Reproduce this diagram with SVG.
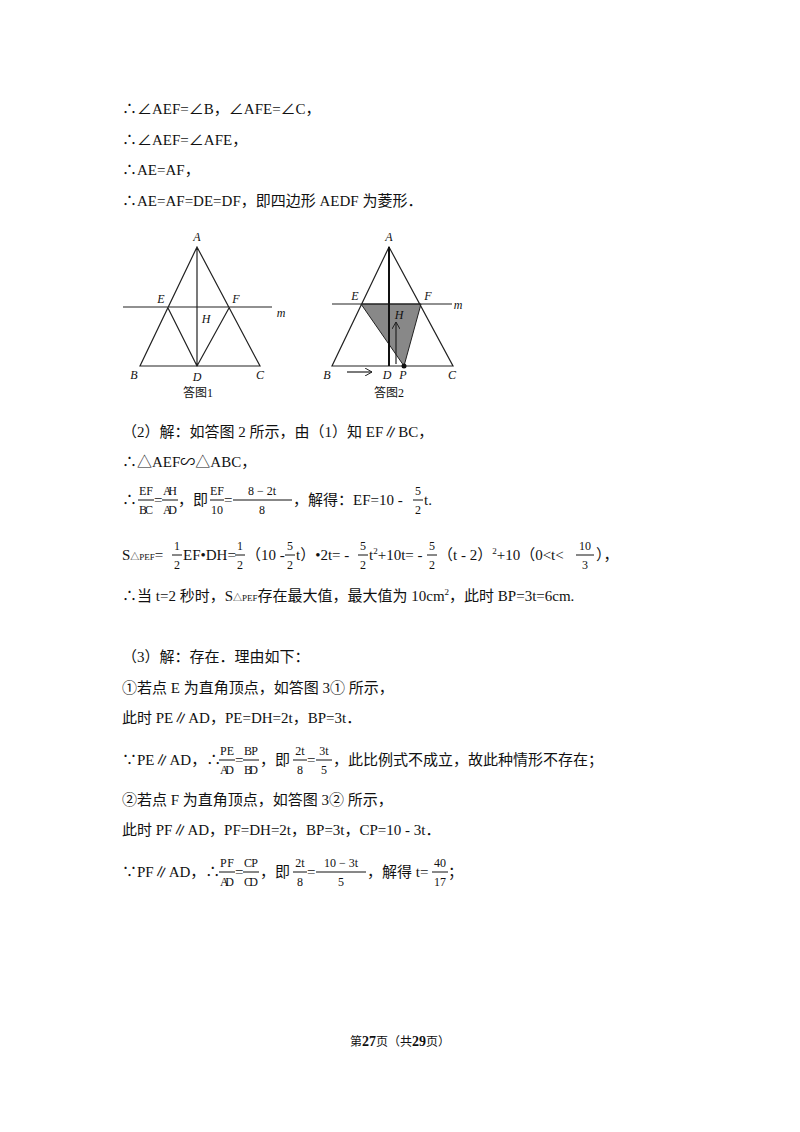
<svg xmlns="http://www.w3.org/2000/svg" width="800" height="1132" viewBox="0 0 800 1132">
<style>
text{font-family:"Liberation Serif","Noto Sans CJK SC",serif;font-size:15px;fill:#111}
.f{font-size:12px;text-anchor:middle}
.s{font-size:9px}
.lb{font-style:italic;font-size:12px;text-anchor:middle}
.cap{font-size:12px;text-anchor:middle}
.ln{stroke:#222;stroke-width:1.2;fill:none}
.bar{stroke:#111;stroke-width:1}
</style>
<defs><marker id="ar" markerWidth="8" markerHeight="8" refX="7" refY="4" orient="auto" markerUnits="userSpaceOnUse"><path d="M0,0 L7,4 L0,8" fill="none" stroke="#222"/></marker></defs>
<rect width="800" height="1132" fill="#fff"/>
<text x="122" y="114">∴∠AEF=∠B，∠AFE=∠C，</text>
<text x="122" y="145">∴∠AEF=∠AFE，</text>
<text x="122" y="175">∴AE=AF，</text>
<text x="122" y="206">∴AE=AF=DE=DF，即四边形 AEDF 为菱形．</text>
<g id="fig1">
<path class="ln" d="M197,247 L140,366 L260,366 Z M197,247 V366 M168,308 L197,366 L229,308 M123,307 H272"/>
<text class="lb" x="197" y="241">A</text><text class="lb" x="161" y="303">E</text><text class="lb" x="236" y="303">F</text>
<text class="lb" x="206" y="323">H</text><text class="lb" x="281" y="317">m</text><text class="lb" x="134" y="379">B</text>
<text class="lb" x="197" y="381">D</text><text class="lb" x="260" y="379">C</text><text class="cap" x="198" y="397">答图1</text>
</g>
<g id="fig2">
<polygon points="361,304 421,304 404,366" fill="#888" stroke="#222"/>
<path class="ln" d="M389,247 L332,366 L453,366 Z M332,304 H452"/>
<path d="M389,247 V366" stroke="#111" stroke-width="2"/>
<path class="ln" d="M396,364 V322" marker-end="url(#ar)"/>
<path class="ln" d="M347,372 H372" marker-end="url(#ar)"/>
<circle cx="404" cy="366" r="2.5" fill="#111"/>
<text class="lb" x="389" y="241">A</text><text class="lb" x="355" y="300">E</text><text class="lb" x="428" y="300">F</text>
<text class="lb" x="399" y="319">H</text><text class="lb" x="458" y="309">m</text><text class="lb" x="327" y="379">B</text>
<text class="lb" x="387" y="379">D</text><text class="lb" x="403" y="379">P</text><text class="lb" x="452" y="379">C</text>
<text class="cap" x="389" y="397">答图2</text>
</g>
<text x="122" y="437">（2）解：如答图 2 所示，由（1）知 EF∥BC，</text>
<text x="122" y="467">∴△AEF∽△ABC，</text>
<g>
<text x="122" y="505">∴</text>
<text class="f" x="146" y="495" textLength="14">EF</text><line class="bar" x1="138" y1="500" x2="154" y2="500"/><text class="f" x="146" y="514" textLength="14">BC</text>
<text x="154" y="505">=</text>
<text class="f" x="170" y="495" textLength="14">AH</text><line class="bar" x1="162" y1="500" x2="178" y2="500"/><text class="f" x="170" y="514" textLength="14">AD</text>
<text x="178" y="505">，即</text>
<text class="f" x="217" y="495" textLength="14">EF</text><line class="bar" x1="210" y1="500" x2="224" y2="500"/><text class="f" x="217" y="514">10</text>
<text x="224" y="505">=</text>
<text class="f" x="262" y="495">8 − 2t</text><line class="bar" x1="233" y1="500" x2="292" y2="500"/><text class="f" x="262" y="514">8</text>
<text x="293" y="505">，解得：EF=10 - </text>
<text class="f" x="418" y="495">5</text><line class="bar" x1="413" y1="500" x2="423" y2="500"/><text class="f" x="418" y="514">2</text>
<text x="424" y="505">t.</text>
</g>
<g>
<text x="122" y="560">S<tspan class="s">△PEF</tspan>=</text>
<text class="f" x="177" y="550">1</text><line class="bar" x1="172" y1="555" x2="182" y2="555"/><text class="f" x="177" y="569">2</text>
<text x="183" y="560">EF•DH=</text>
<text class="f" x="240" y="550">1</text><line class="bar" x1="235" y1="555" x2="245" y2="555"/><text class="f" x="240" y="569">2</text>
<text x="246" y="560">（10 - </text>
<text class="f" x="290" y="550">5</text><line class="bar" x1="285" y1="555" x2="295" y2="555"/><text class="f" x="290" y="569">2</text>
<text x="296" y="560">t）•2t= - </text>
<text class="f" x="363" y="550">5</text><line class="bar" x1="358" y1="555" x2="368" y2="555"/><text class="f" x="363" y="569">2</text>
<text x="369" y="560">t<tspan class="s" dy="-6">2</tspan><tspan dy="6">+10t= - </tspan></text>
<text class="f" x="432" y="550">5</text><line class="bar" x1="427" y1="555" x2="437" y2="555"/><text class="f" x="432" y="569">2</text>
<text x="438" y="560">（t - 2）<tspan class="s" dy="-6">2</tspan><tspan dy="6">+10（0&lt;t&lt;</tspan></text>
<text class="f" x="585" y="550">10</text><line class="bar" x1="576" y1="555" x2="594" y2="555"/><text class="f" x="585" y="569">3</text>
<text x="596" y="560">），</text>
</g>
<text x="122" y="601">∴当 t=2 秒时，S<tspan class="s">△PEF</tspan>存在最大值，最大值为 10cm<tspan class="s" dy="-6">2</tspan><tspan dy="6">，此时 BP=3t=6cm.</tspan></text>
<text x="122" y="662">（3）解：存在．理由如下：</text>
<text x="122" y="693">①若点 E 为直角顶点，如答图 3① 所示，</text>
<text x="122" y="723">此时 PE∥AD，PE=DH=2t，BP=3t．</text>
<g>
<text x="122" y="765">∵PE∥AD，∴</text>
<text class="f" x="227" y="755" textLength="14">PE</text><line class="bar" x1="219" y1="760" x2="235" y2="760"/><text class="f" x="227" y="774" textLength="14">AD</text>
<text x="235" y="765">=</text>
<text class="f" x="251" y="755" textLength="14">BP</text><line class="bar" x1="243" y1="760" x2="259" y2="760"/><text class="f" x="251" y="774" textLength="14">BD</text>
<text x="260" y="765">，即</text>
<text class="f" x="300" y="755">2t</text><line class="bar" x1="293" y1="760" x2="307" y2="760"/><text class="f" x="300" y="774">8</text>
<text x="307" y="765">=</text>
<text class="f" x="324" y="755">3t</text><line class="bar" x1="316" y1="760" x2="332" y2="760"/><text class="f" x="324" y="774">5</text>
<text x="333" y="765">，此比例式不成立，故此种情形不存在；</text>
</g>
<text x="122" y="805">②若点 F 为直角顶点，如答图 3② 所示，</text>
<text x="122" y="835">此时 PF∥AD，PF=DH=2t，BP=3t，CP=10 - 3t．</text>
<g>
<text x="122" y="877">∵PF∥AD，∴</text>
<text class="f" x="227" y="867" textLength="14">PF</text><line class="bar" x1="219" y1="872" x2="235" y2="872"/><text class="f" x="227" y="886" textLength="14">AD</text>
<text x="235" y="877">=</text>
<text class="f" x="251" y="867" textLength="14">CP</text><line class="bar" x1="243" y1="872" x2="259" y2="872"/><text class="f" x="251" y="886" textLength="14">CD</text>
<text x="260" y="877">，即</text>
<text class="f" x="300" y="867">2t</text><line class="bar" x1="293" y1="872" x2="307" y2="872"/><text class="f" x="300" y="886">8</text>
<text x="307" y="877">=</text>
<text class="f" x="341" y="867">10 − 3t</text><line class="bar" x1="316" y1="872" x2="366" y2="872"/><text class="f" x="341" y="886">5</text>
<text x="367" y="877">，解得 t=</text>
<text class="f" x="440" y="867">40</text><line class="bar" x1="432" y1="872" x2="448" y2="872"/><text class="f" x="440" y="886">17</text>
<text x="448" y="877">；</text>
</g>
<text x="400" y="1046" text-anchor="middle" style="font-size:12px">第<tspan font-weight="bold" style="font-size:14px">27</tspan>页（共<tspan font-weight="bold" style="font-size:14px">29</tspan>页）</text>
</svg>
